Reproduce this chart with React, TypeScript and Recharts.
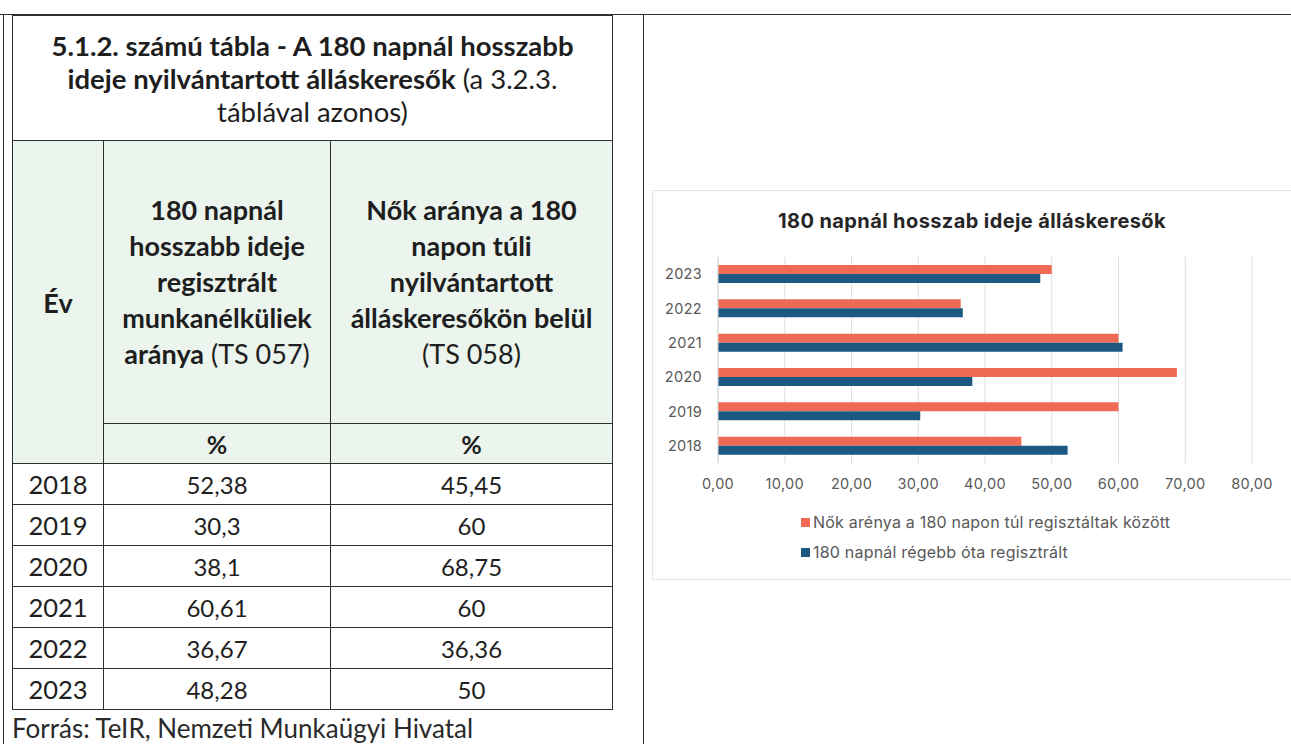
import React from 'react';
import {
  BarChart,
  Bar,
  XAxis,
  YAxis,
  CartesianGrid,
  Legend,
} from 'recharts';

// évek és a két mutató (TS 057, TS 058)
const years = ['2018', '2019', '2020', '2021', '2022', '2023'];
const longTermShare = [52.38, 30.3, 38.1, 60.61, 36.67, 48.28];
const womenShare = [45.45, 60, 68.75, 60, 36.36, 50];
const xTicks = [0, 10, 20, 30, 40, 50, 60, 70, 80];

const SERIES_WOMEN = 'Nők arénya a 180 napon túl regisztáltak között';
const SERIES_LONG = '180 napnál régebb óta regisztrált';
const legendOrder = [SERIES_WOMEN, SERIES_LONG];

const ORANGE = '#ef6a55';
const BLUE = '#1c5882';
const CHART_FONT = 'Inter, Roboto, sans-serif';
const DOC_FONT = 'Lato, "Open Sans", sans-serif';
const LINE = '1.5px solid #2e2e2e';
const HEAD_BG = '#ebf4ed';

const chartData = years.map((y, i) => ({
  year: y,
  women: womenShare[i],
  longTerm: longTermShare[i],
}));

const fmt = (v: number) => String(v).replace('.', ',');

function renderLegend(props: any) {
  const { payload = [] } = props;
  const items = legendOrder
    .map((name) => payload.find((p: any) => p.value === name))
    .filter(Boolean);
  return (
    <div
      style={{
        fontFamily: CHART_FONT,
        fontSize: 16,
        letterSpacing: 0.2,
        color: '#595959',
        whiteSpace: 'nowrap',
      }}
    >
      {items.map((p: any) => (
        <div
          key={p.value}
          style={{ display: 'flex', alignItems: 'center', height: 20, marginBottom: 10 }}
        >
          <span
            style={{ width: 9, height: 9, background: p.color, marginRight: 3, display: 'inline-block' }}
          />
          <span>{p.value}</span>
        </div>
      ))}
    </div>
  );
}

function KpiTable() {
  const cell: React.CSSProperties = {
    border: LINE,
    textAlign: 'center',
    padding: 0,
  };
  return (
    <table
      style={{
        position: 'absolute',
        left: 12,
        top: 15,
        width: 600,
        borderCollapse: 'collapse',
        tableLayout: 'fixed',
        fontFamily: DOC_FONT,
        color: '#1e1e1e',
      }}
    >
      <colgroup>
        <col style={{ width: 91 }} />
        <col style={{ width: 227 }} />
        <col style={{ width: 282 }} />
      </colgroup>
      <tbody>
        <tr style={{ height: 125 }}>
          <td colSpan={3} style={{ ...cell, fontSize: 27.5, lineHeight: '33px' }}>
            <b>5.1.2. számú tábla - A 180 napnál hosszabb</b>
            <br />
            <b>ideje nyilvántartott álláskeresők</b> (a 3.2.3.
            <br />
            táblával azonos)
          </td>
        </tr>
        <tr style={{ height: 283, background: HEAD_BG }}>
          <td rowSpan={2} style={{ ...cell, fontSize: 27, fontWeight: 700 }}>
            Év
          </td>
          <td style={{ ...cell, fontSize: 27, lineHeight: '36px' }}>
            <b>180 napnál</b>
            <br />
            <b>hosszabb ideje</b>
            <br />
            <b>regisztrált</b>
            <br />
            <b>munkanélküliek</b>
            <br />
            <b>aránya</b> (TS 057)
          </td>
          <td style={{ ...cell, fontSize: 27, lineHeight: '36px' }}>
            <b>Nők aránya a 180</b>
            <br />
            <b>napon túli</b>
            <br />
            <b>nyilvántartott</b>
            <br />
            <b>álláskeresőkön belül</b>
            <br />
            (TS 058)
          </td>
        </tr>
        <tr style={{ height: 40, background: HEAD_BG }}>
          <td style={{ ...cell, fontSize: 25, fontWeight: 700 }}>%</td>
          <td style={{ ...cell, fontSize: 25, fontWeight: 700 }}>%</td>
        </tr>
        {years.map((y, i) => (
          <tr key={y} style={{ height: 41 }}>
            <td style={{ ...cell, fontSize: 25.5 }}>{y}</td>
            <td style={{ ...cell, fontSize: 24 }}>{fmt(longTermShare[i])}</td>
            <td style={{ ...cell, fontSize: 24 }}>{fmt(womenShare[i])}</td>
          </tr>
        ))}
      </tbody>
    </table>
  );
}

function LongTermChart() {
  return (
    <div
      style={{
        position: 'absolute',
        left: 652,
        top: 190,
        width: 640,
        height: 390,
        border: '1px solid #e4e4e4',
        boxSizing: 'border-box',
        background: '#fff',
      }}
    >
      <div
        style={{
          position: 'absolute',
          left: 0,
          top: 18,
          width: 638,
          textAlign: 'center',
          fontFamily: CHART_FONT,
          fontWeight: 700,
          fontSize: 20,
          letterSpacing: 0.4,
          color: '#262626',
        }}
      >
        180 napnál hosszab ideje álláskeresők
      </div>
      <BarChart
        width={638}
        height={388}
        data={chartData}
        layout="vertical"
        margin={{ top: 66, right: 39, left: 0, bottom: 86 }}
        barGap={0}
      >
        <CartesianGrid horizontal={false} stroke="#dedede" />
        <XAxis
          type="number"
          domain={[0, 80]}
          ticks={xTicks}
          tickFormatter={(v: number) => v.toFixed(2).replace('.', ',')}
          axisLine={false}
          tickLine={false}
          tickMargin={10}
          height={30}
          tick={{ fill: '#595959', fontSize: 14.5, fontFamily: CHART_FONT, letterSpacing: 0.3 }}
        />
        <YAxis
          type="category"
          dataKey="year"
          reversed
          width={65}
          axisLine={{ stroke: '#d9d9d9' }}
          tickLine={false}
          tickMargin={10}
          tick={{ fill: '#595959', fontSize: 14.5, fontFamily: CHART_FONT, letterSpacing: 0.3 }}
        />
        <Legend
          layout="vertical"
          verticalAlign="middle"
          align="center"
          content={renderLegend}
          wrapperStyle={{ top: 321, left: 148, width: 'auto', height: 'auto' }}
        />
        <Bar dataKey="women" name={SERIES_WOMEN} fill={ORANGE} barSize={9} isAnimationActive={false} />
        <Bar dataKey="longTerm" name={SERIES_LONG} fill={BLUE} barSize={9} isAnimationActive={false} />
      </BarChart>
    </div>
  );
}

export default function App() {
  return (
    <div
      style={{
        position: 'absolute',
        left: 0,
        top: 0,
        width: 1291,
        height: 744,
        background: '#fff',
        overflow: 'hidden',
      }}
    >
      {/* a beszkennelt oldal keretvonalai */}
      <div style={{ position: 'absolute', left: 0, top: 14, width: 1291, height: 0, borderTop: LINE }} />
      <div style={{ position: 'absolute', left: 3, top: 14, width: 0, height: 730, borderLeft: LINE }} />
      <div style={{ position: 'absolute', left: 643, top: 14, width: 0, height: 730, borderLeft: LINE }} />
      <KpiTable />
      <div
        style={{
          position: 'absolute',
          left: 12,
          top: 712,
          fontFamily: DOC_FONT,
          fontSize: 26,
          color: '#2a2a2a',
          whiteSpace: 'nowrap',
        }}
      >
        Forrás: TeIR, Nemzeti Munkaügyi Hivatal
      </div>
      <LongTermChart />
    </div>
  );
}
